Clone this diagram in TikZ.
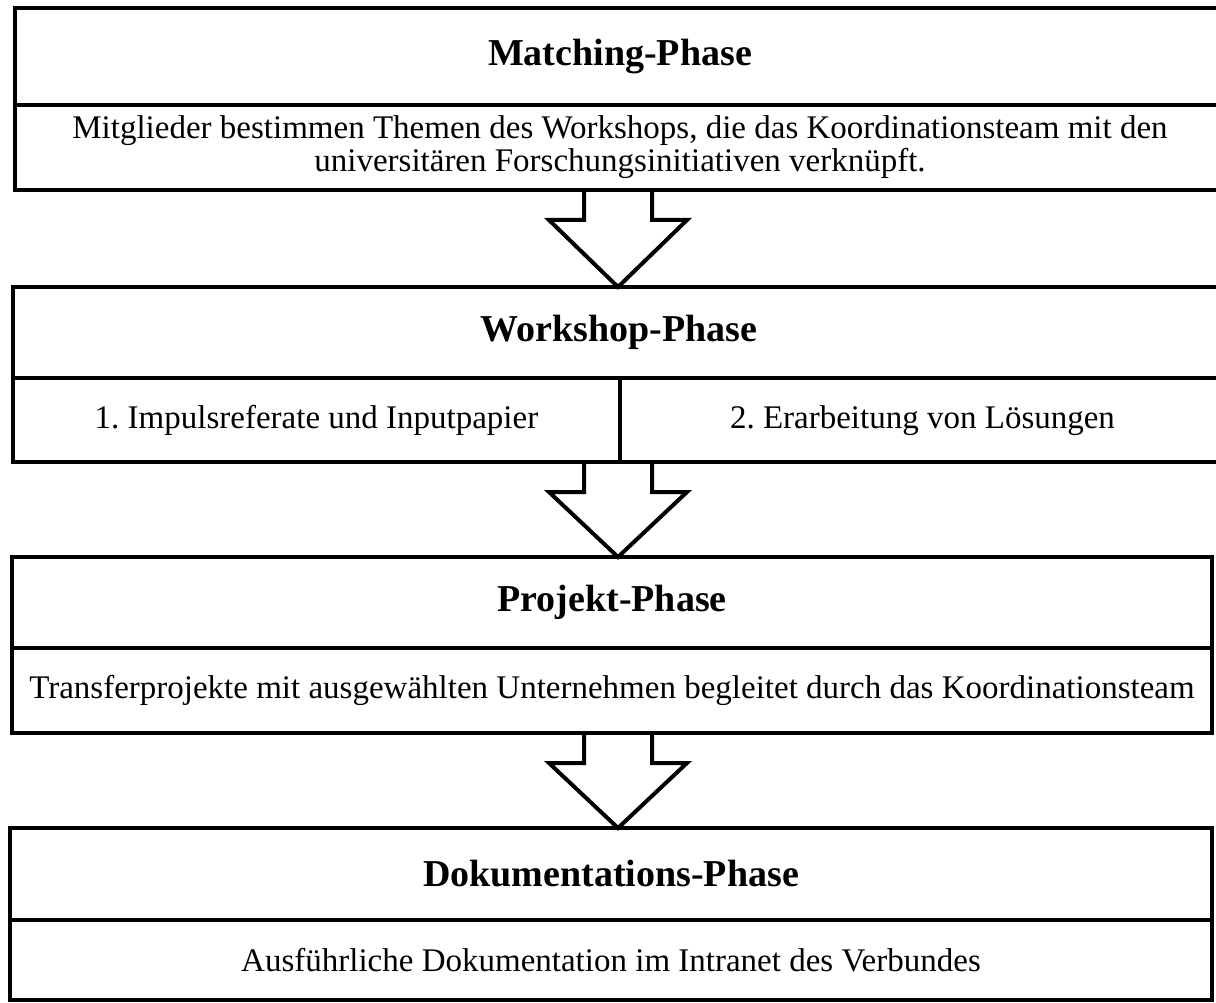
\documentclass[tikz,border=0pt]{standalone}
\usepackage{fontspec}
\setmainfont{Liberation Serif}
\frenchspacing
\usetikzlibrary{positioning, calc}

% block arrow from the body of one phase to the head of the next
\newcommand{\phasearrow}[2]{%
  \draw[blockarrow] ($(axis |- #1.south)+(-34,0)$) -- ++(0,30) -- ++(-35,0)
    -- (axis |- #2.north) -- ($(axis |- #1.south)+(69,30)$) -- ++(-35,0) -- ++(0,-30);
}

\begin{document}
\begin{tikzpicture}[x=1pt, y=-1pt,
  headbox/.style={draw, line width=3.5pt, inner sep=0pt, outer sep=0pt, anchor=north west,
    minimum height=97pt, font=\fontsize{38}{44}\selectfont\bfseries},
  bodybox/.style={draw, line width=3.5pt, inner sep=0pt, outer sep=0pt, anchor=north west,
    minimum height=85pt, align=center, font=\fontsize{33}{33}\selectfont},
  cellbox/.style={bodybox, minimum height=84pt, text height=24pt, text depth=8pt},
  blockarrow/.style={line width=4pt, line join=miter}]
\useasboundingbox (0,0) rectangle (1216,1003);
\coordinate (axis) at (618,0);

% Matching
\node[headbox, minimum width=1210pt] (match) at (15,8) {Matching-Phase};
\node[bodybox, minimum width=1210pt] (matchtxt) at (match.south west)
  {Mitglieder bestimmen Themen des Workshops, die das Koordinationsteam mit den\\
   universitären Forschungsinitiativen verknüpft.};

% Workshop
\node[headbox, minimum width=1212pt, minimum height=91pt] (work) at (13,287) {Workshop-Phase};
\node[cellbox, minimum width=607pt] (worka) at (work.south west)
  {1. Impulsreferate und Inputpapier};
\node[cellbox, minimum width=605pt] (workb) at (worka.north east)
  {2. Erarbeitung von Lösungen};

% Projekt
\node[headbox, minimum width=1200pt, minimum height=91pt] (proj) at (12,557) {Projekt-Phase};
\node[bodybox, minimum width=1200pt] (projtxt) at (proj.south west)
  {Transferprojekte mit ausgewählten Unternehmen begleitet durch das Koordinationsteam};

% Dokumentation
\node[headbox, minimum width=1202pt, minimum height=92pt] (doku) at (10,828) {Dokumentations-Phase};
\node[bodybox, minimum width=1202pt, minimum height=80pt] (dokutxt) at (doku.south west)
  {Ausführliche Dokumentation im Intranet des Verbundes};

% arrows
\phasearrow{matchtxt}{work}
\phasearrow{worka}{proj}
\phasearrow{projtxt}{doku}
\end{tikzpicture}
\end{document}
